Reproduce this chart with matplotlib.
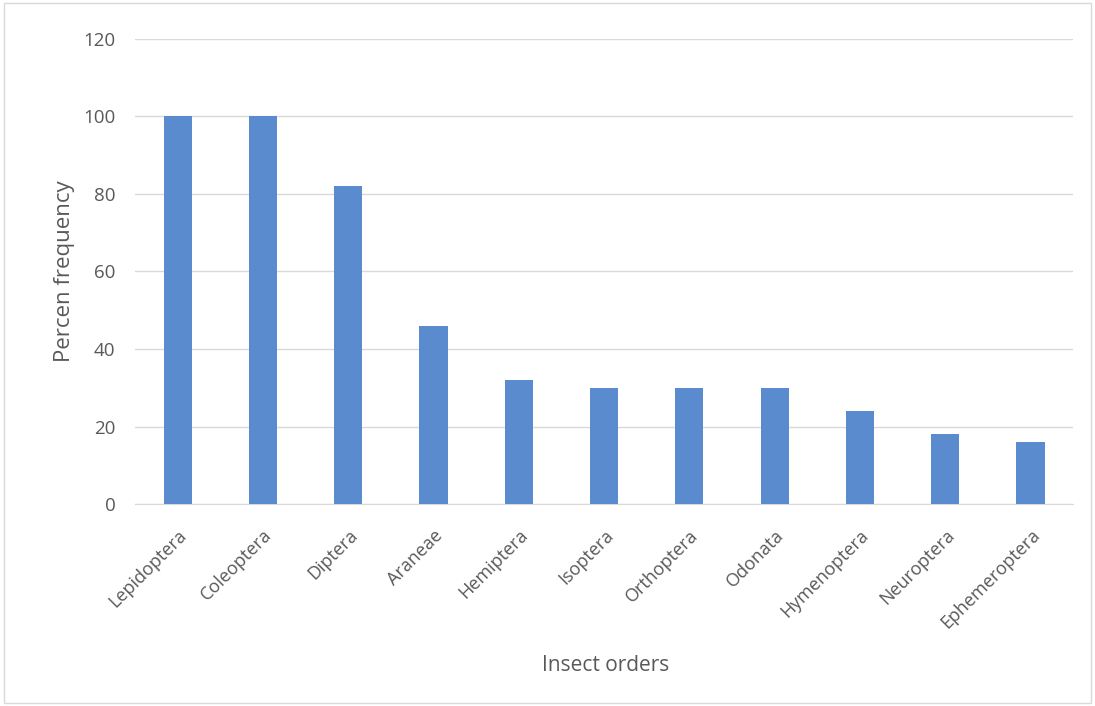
import matplotlib
matplotlib.use("Agg")
import matplotlib.pyplot as plt
import numpy as np

ordenes = ["Lepidoptera", "Coleoptera", "Diptera", "Araneae", "Hemiptera", "Isoptera",
           "Orthoptera", "Odonata", "Hymenoptera", "Neuroptera", "Ephemeroptera"]
frecuencia = [100, 100, 82, 46, 32, 30, 30, 30, 24, 18, 16]
ticks_y = [0, 20, 40, 60, 80, 100, 120]

plt.rcParams['font.family'] = ['Open Sans', 'DejaVu Sans']
GRIS = '#595959'

fig = plt.figure(figsize=(10.95, 7.06), dpi=100)
ax = fig.add_axes([0.1233, 0.2861, 0.8567, 0.6587])

x = np.arange(len(ordenes))
ax.bar(x, frecuencia, width=0.33, color='#5b8bcf', zorder=3)

ax.set_xlim(-0.5, len(ordenes) - 0.5)
ax.set_ylim(0, 120)
ax.set_yticks(ticks_y)
ax.set_yticklabels([str(t) for t in ticks_y], fontsize=13.5, color=GRIS)
ax.set_xticks(x)
ax.set_xticklabels(ordenes, rotation=45, ha='right', rotation_mode='anchor',
                   fontsize=13, color=GRIS)
ax.tick_params(axis='y', length=0, pad=14)
ax.tick_params(axis='x', length=0, pad=16)

ax.grid(axis='y', color='#d9d9d9', linewidth=1, zorder=0)
for s in ['top', 'right', 'left']:
  ax.spines[s].set_visible(False)
ax.spines['bottom'].set_color('#d9d9d9')

ax.set_ylabel("Percen frequency", fontsize=16, color=GRIS, labelpad=6)
fig.text(0.553, 0.058, "Insect orders", fontsize=15, color=GRIS, ha='center', va='center')

fig.patches.append(plt.Rectangle((0.004, 0.004), 0.992, 0.992, transform=fig.transFigure,
                                 fill=False, edgecolor='#d9d9d9', linewidth=1))

fig.savefig("out.png", dpi=100)
